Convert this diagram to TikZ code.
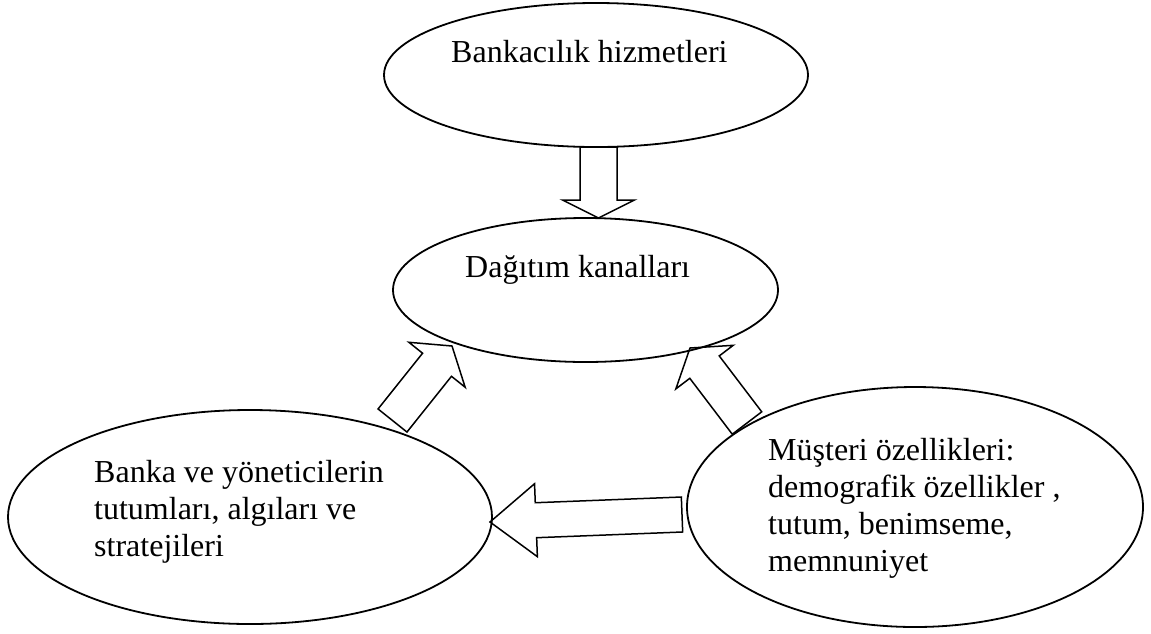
\documentclass[tikz,border=0pt]{standalone}
\usepackage{fontspec}
\setmainfont{Liberation Serif}
\usetikzlibrary{shapes.geometric,calc}

\tikzset{
  bubble/.style={ellipse, draw, line width=1.8pt, fill=white, inner sep=0pt},
  caption/.style={font=\fontsize{32}{37}\selectfont, inner sep=0pt, anchor=base west},
  arrowline/.style={draw, line width=1.5pt, line join=miter},
}

% hollow block arrow: #1 tail, #2 tip, #3 half shaft width, #4 half head width, #5 head length
\newcommand{\hollowarrow}[5]{%
  \coordinate (hb) at ($(#2)!#5!(#1)$);
  \draw[arrowline]
    ($(#1)!#3!90:(#2)$) -- ($(hb)!#3!90:(#2)$) -- ($(hb)!#4!90:(#2)$) -- (#2)
    -- ($(hb)!#4!-90:(#2)$) -- ($(hb)!#3!-90:(#2)$) -- ($(#1)!#3!-90:(#2)$) -- cycle;
}

\begin{document}
\begin{tikzpicture}[x=1pt,y=-1pt]
\useasboundingbox (0,0) rectangle (1151,633);
\fill[white] (0,0) rectangle (1151,633);

% the four ellipses
\node[bubble, minimum width=424pt, minimum height=144pt] (services) at (596,75) {};
\node[bubble, minimum width=385pt, minimum height=144pt] (channels) at (585.5,290) {};
\node[bubble, minimum width=484pt, minimum height=214pt] (bank) at (250,517) {};
\node[bubble, minimum width=456pt, minimum height=240pt] (customer) at (915,507) {};

% texts inside the ellipses
\node[caption] (servicesText) at (451,62) {Bankacılık hizmetleri};
\node[caption] (channelsText) at (465,277) {Dağıtım kanalları};
\node[caption] (bankText) at (94,482)
  {\begin{tabular}[t]{@{}l@{}}Banka ve yöneticilerin\\tutumları, algıları ve\\stratejileri\end{tabular}};
\node[caption] (customerText) at (768,460)
  {\begin{tabular}[t]{@{}l@{}}Müşteri özellikleri:\\demografik özellikler ,\\tutum, benimseme,\\memnuniyet\end{tabular}};

% arrow ends on the ellipse borders
\coordinate (sv-out) at (598.5,147);
\coordinate (ch-in1) at (598.5,218);
\coordinate (bk-out) at (392.5,420.5);
\coordinate (ch-in2) at (452,346);
\coordinate (cu-out1) at (747,423);
\coordinate (ch-in3) at (690,348);
\coordinate (cu-out2) at (682,514.5);
\coordinate (bk-in) at (490,522);

% hollow block arrows
\hollowarrow{sv-out}{ch-in1}{18.5pt}{36pt}{18pt}
\hollowarrow{bk-out}{ch-in2}{18.5pt}{36pt}{24pt}
\hollowarrow{cu-out1}{ch-in3}{18.5pt}{36pt}{24pt}
\hollowarrow{cu-out2}{bk-in}{17.5pt}{36.5pt}{46pt}
\end{tikzpicture}
\end{document}
